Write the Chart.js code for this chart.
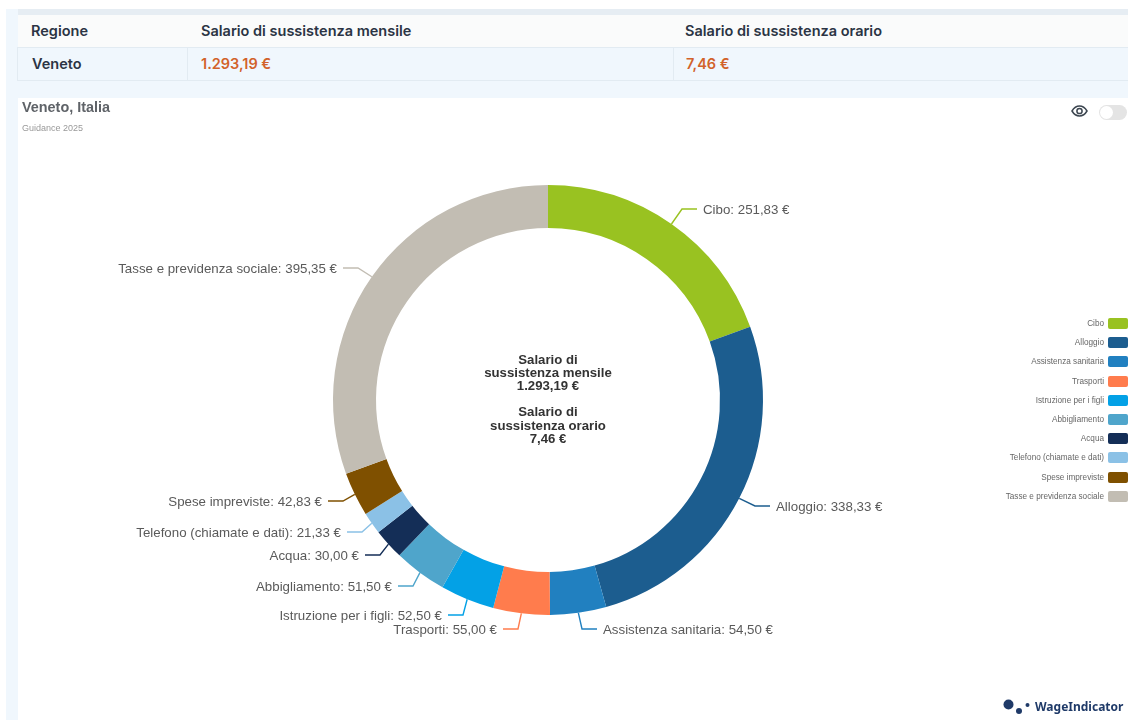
<!DOCTYPE html>
<html lang="it">
<head>
<meta charset="utf-8">
<title>Veneto, Italia</title>
<script src="https://cdn.jsdelivr.net/npm/chart.js@4/dist/chart.umd.min.js"></script>
<style>
  html, body { margin: 0; padding: 0; background: #fff; }
  body { width: 1128px; height: 720px; position: relative; overflow: hidden; font-family: Inter, "Liberation Sans", sans-serif; filter: blur(0.45px); }
  .strip { position: absolute; left: 6px; top: 9px; width: 1122px; height: 711px; background: #f0f7fd; }
  .shade { position: absolute; left: 18px; top: 9px; width: 1110px; height: 6px; background: #e6edf3; }
  .hdr { position: absolute; left: 18px; top: 15px; width: 1110px; height: 33px; background: #fafbfb; }
  .row { position: absolute; left: 17px; top: 47px; width: 1111px; height: 34px; box-sizing: border-box; border: 1px solid #e2ebf2; border-right: 0; background: #f0f7fd; }
  .sep { position: absolute; top: 0; bottom: 0; width: 1px; background: #e2ebf2; }
  .cell { position: absolute; white-space: nowrap; font-weight: 600; line-height: 18px; color: #2b3444; }
  .th { font-size: 14.5px; top: 22px; }
  .td { font-size: 14.5px; top: 55px; }
  .money { color: #d2622a; }
  .panel { position: absolute; left: 18px; top: 98px; width: 1110px; height: 622px; background: #fff; }
  canvas { position: absolute; left: 18px; top: 98px; }
  .title { position: absolute; left: 22px; top: 99px; font: bold 14.4px "Liberation Sans", sans-serif; color: #5f6368; }
  .sub { position: absolute; left: 22px; top: 123px; font: 9px "Liberation Sans", sans-serif; color: #999; }
  .toggle { position: absolute; left: 1099px; top: 105px; width: 28px; height: 15px; border-radius: 8px; background: #e4e4e4; }
  .toggle i { position: absolute; left: 1px; top: 1px; width: 13px; height: 13px; border-radius: 50%; background: #fff; }
  #legend { position: absolute; left: 950px; top: 314px; width: 178px; }
  .li { height: 19.2px; display: flex; justify-content: flex-end; align-items: center; font: 8.2px "Liberation Sans", sans-serif; color: #666; }
  .li b { display: block; width: 20px; height: 11px; margin-left: 4px; border-radius: 2px; }
  .brand { position: absolute; left: 1035px; top: 698px; font: bold 12px "Noto Sans", sans-serif; color: #1f3a68; }
</style>
</head>
<body>
<div class="strip"></div>
<div class="shade"></div>
<div class="hdr"></div>
<div class="row"><div class="sep" style="left:169px"></div><div class="sep" style="left:655px"></div></div>
<div class="cell th" id="th0" style="left:31px"></div>
<div class="cell th" id="th1" style="left:201px"></div>
<div class="cell th" id="th2" style="left:685px"></div>
<div class="cell td" id="td0" style="left:32px"></div>
<div class="cell td money" id="td1" style="left:201px"></div>
<div class="cell td money" id="td2" style="left:686px"></div>
<div class="panel"></div>
<canvas id="chart" width="1110" height="622"></canvas>
<div class="title">Veneto, Italia</div>
<div class="sub">Guidance 2025</div>
<svg style="position:absolute;left:1071px;top:104px" width="17" height="14" viewBox="0 0 17 14">
  <path d="M1 7c2-3.400 4.500-5 7.500-5s5.500 1.600 7.500 5c-2 3.400-4.500 5-7.500 5S3 10.400 1 7z" fill="none" stroke="#3c4650" stroke-width="1.500"/>
  <circle cx="8.500" cy="7" r="2.600" fill="none" stroke="#3c4650" stroke-width="1.500"/>
</svg>
<div class="toggle"><i></i></div>
<div id="legend"></div>
<svg style="position:absolute;left:1000px;top:696px" width="34" height="22" viewBox="0 0 34 22">
  <circle cx="8.500" cy="8.500" r="5" fill="#1f3a68"/>
  <circle cx="19" cy="15" r="3" fill="#1f3a68"/>
  <circle cx="27.500" cy="9" r="2" fill="#1f3a68"/>
</svg>
<div class="brand">WageIndicator</div>

<script>
const categories = ['Cibo', 'Alloggio', 'Assistenza sanitaria', 'Trasporti', 'Istruzione per i figli', 'Abbigliamento', 'Acqua', 'Telefono (chiamate e dati)', 'Spese impreviste', 'Tasse e previdenza sociale'];
const values = [251.83, 338.33, 54.50, 55.00, 52.50, 51.50, 30.00, 21.33, 42.83, 395.35];
const colors = ['#99c221', '#1c5d8f', '#2180c0', '#ff7c4d', '#03a1e6', '#4fa5cb', '#142e57', '#8bc1e6', '#7f5000', '#c2bdb3'];
const tableHead = ['Regione', 'Salario di sussistenza mensile', 'Salario di sussistenza orario'];
const tableRow = ['Veneto', '1.293,19 €', '7,46 €'];
const centerLines = ['Salario di', 'sussistenza mensile', '1.293,19 €', '', 'Salario di', 'sussistenza orario', '7,46 €'];

// label anchor relative to the ring centre, near end of the text
const labelDx = [155, 228, 55, -51, -106, -156, -189, -207, -226, -211];
const labelDy = [-191, 106, 229, 229, 215, 186, 155, 132, 101, -132];

const $ = id => document.getElementById(id);
tableHead.forEach((t, i) => { $('th' + i).textContent = t; });
tableRow.forEach((t, i) => { $('td' + i).textContent = t; });
$('legend').innerHTML = categories.map((c, i) => '<div class="li"><span>' + c + '</span><b style="background:' + colors[i] + '"></b></div>').join('');

const euro = v => v.toFixed(2).replace('.', ',') + ' €';

const calloutPlugin = {
  id: 'callouts',
  afterDatasetsDraw(chart) {
    const ctx = chart.ctx;
    const arcs = chart.getDatasetMeta(0).data;
    ctx.save();
    ctx.font = '13.3px "Liberation Sans", sans-serif';
    ctx.textBaseline = 'middle';
    arcs.forEach((arc, i) => {
      const p = arc.getProps(['x', 'y', 'startAngle', 'endAngle', 'outerRadius']);
      const mid = (p.startAngle + p.endAngle) / 2;
      const right = labelDx[i] > 0;
      const dir = right ? 1 : -1;
      const lx = p.x + labelDx[i];
      const ly = p.y + labelDy[i];
      ctx.strokeStyle = colors[i];
      ctx.lineWidth = 1.4;
      ctx.beginPath();
      ctx.moveTo(p.x + Math.cos(mid) * p.outerRadius, p.y + Math.sin(mid) * p.outerRadius);
      ctx.lineTo(lx - dir * 21, ly);
      ctx.lineTo(lx - dir * 6, ly);
      ctx.stroke();
      ctx.fillStyle = '#5a5a5a';
      ctx.textAlign = right ? 'left' : 'right';
      ctx.fillText(categories[i] + ': ' + euro(values[i]), lx, ly + 1);
    });
    // centre text
    const c = arcs[0].getProps(['x', 'y']);
    ctx.font = 'bold 13.2px "Liberation Sans", sans-serif';
    ctx.fillStyle = '#333';
    ctx.textAlign = 'center';
    centerLines.forEach((t, i) => {
      ctx.fillText(t, c.x, c.y - 40 + i * 13.2);
    });
    ctx.restore();
  }
};

new Chart($('chart'), {
  type: 'doughnut',
  data: { labels: categories, datasets: [{ data: values, backgroundColor: colors, borderWidth: 0 }] },
  options: {
    responsive: false,
    animation: false,
    radius: 215,
    cutout: '80%',
    layout: { padding: { right: 50, bottom: 18 } },
    plugins: { legend: { display: false }, tooltip: { enabled: false } }
  },
  plugins: [calloutPlugin]
});
</script>
</body>
</html>
